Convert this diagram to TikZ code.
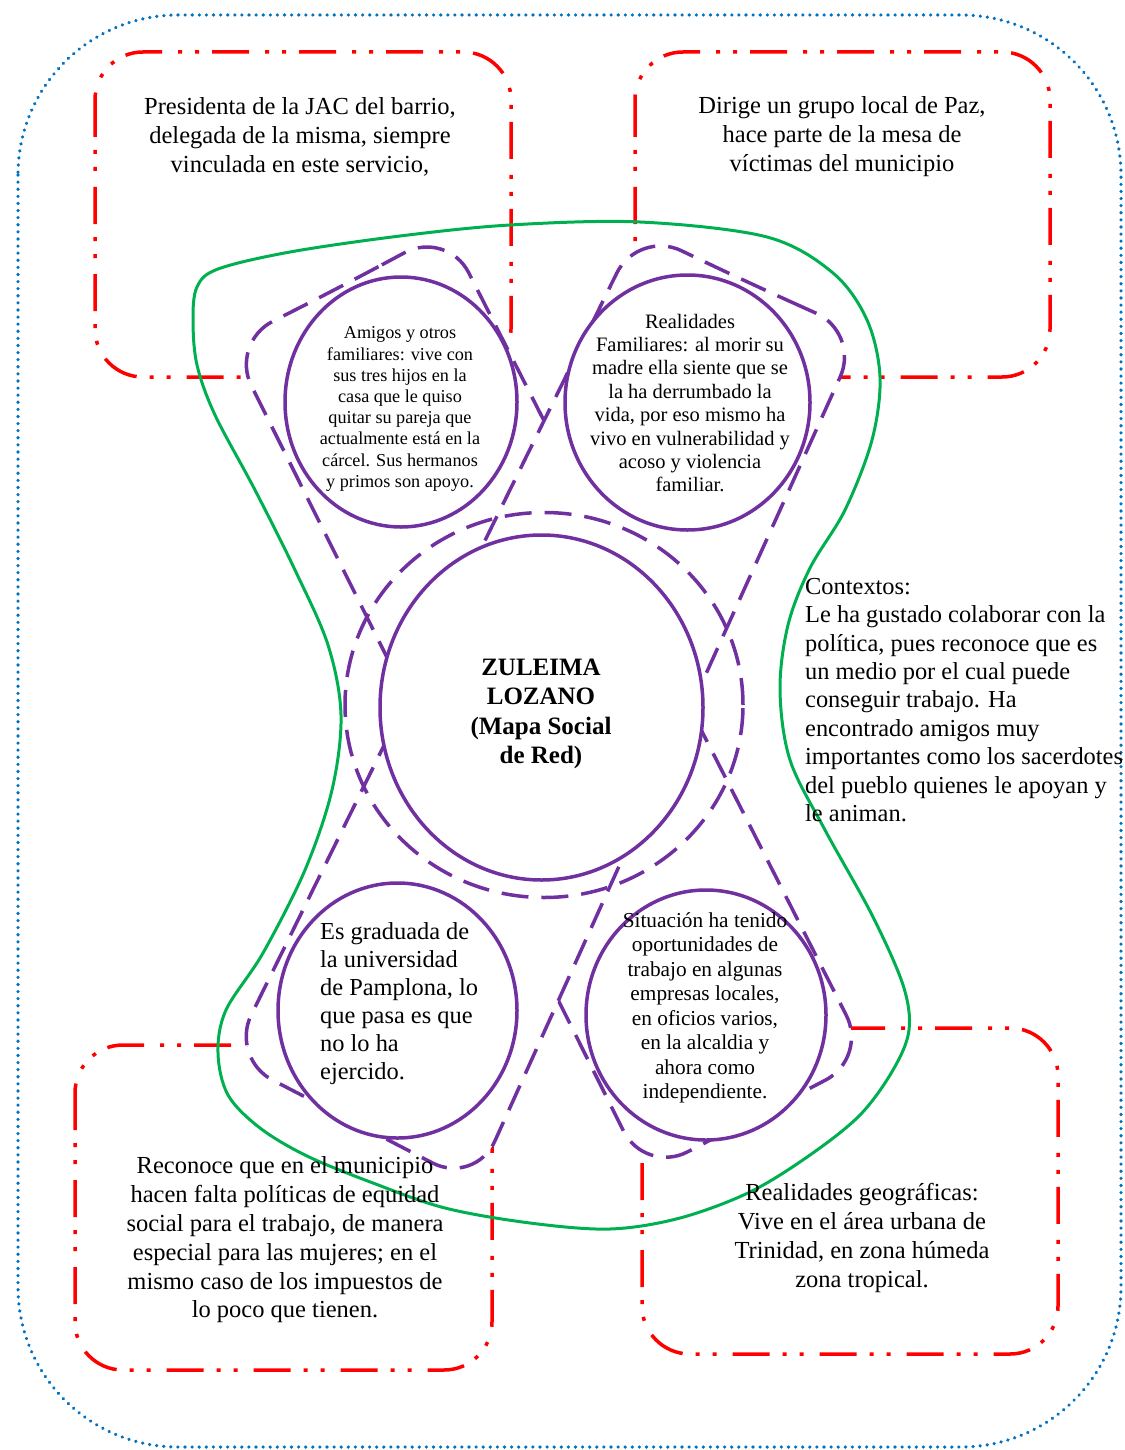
\documentclass[tikz,border=0pt]{standalone}
\usepackage{fontspec}
\setmainfont{Liberation Serif}
\usetikzlibrary{shapes.geometric}
\definecolor{pur}{RGB}{112,48,160}
\definecolor{grn}{RGB}{0,176,80}
\definecolor{blu}{RGB}{0,112,192}
\definecolor{rd}{RGB}{255,0,0}
\begin{document}
\begin{tikzpicture}[x=1pt,y=-1pt,
  bluebox/.style={draw=blu, line width=3.5pt, line cap=round, dash pattern=on 0.1pt off 7pt, rounded corners=160pt},
  redbox/.style={draw=rd, line width=3.5pt, dash pattern=on 37pt off 13pt on 4pt off 13pt on 4pt off 16pt, rounded corners=48pt},
  stripbox/.style={draw=pur, fill=white, line width=3.5pt, dash pattern=on 27pt off 13pt, rounded corners=48pt},
  ring/.style={ellipse, draw=pur, fill=white, line width=3.5pt, inner sep=0pt},
  dring/.style={ellipse, draw=pur, line width=3.5pt, dash pattern=on 27pt off 13pt, inner sep=0pt},
  blob/.style={draw=grn, line width=3pt},
  txt/.style={inner sep=0pt, align=center, text=black},
  bigtxt/.style={txt, font=\fontsize{24.5}{29}\selectfont}
]
\useasboundingbox (0,0) rectangle (1124,1450);
\fill[white] (0,0) rectangle (1124,1450);

% outer dotted frame
\draw[bluebox] (18,15) rectangle (1121,1447);

% red boxes
\draw[redbox] (95,52) rectangle (511,377);
\draw[redbox] (635,52) rectangle (1050,377);
\draw[redbox] (75,1045) rectangle (492,1370);
\draw[redbox] (642,1028) rectangle (1058,1354);

% crossing strips
\draw[stripbox] (339.5,287.5) -- (447,230) -- (868,1058) -- (645,1174) -- (230,343) -- cycle;
\draw[stripbox] (748,282.5) -- (860,333) -- (475,1185) -- (230,1058) -- (638,230) -- cycle;

% dashed ring around centre
\node[dring, minimum width=398pt, minimum height=385pt] (dc) at (544,705) {};

% solid circles
\node[ring, minimum width=323pt, minimum height=345pt] (cc) at (541.5,707.5) {};
\node[ring, minimum width=232pt, minimum height=250pt] (c1) at (401,402) {};
\node[ring, minimum width=245pt, minimum height=255pt] (c2) at (687.5,402.5) {};
\node[ring, minimum width=239pt, minimum height=255pt] (c3) at (397.5,1010.5) {};
\node[ring, minimum width=240pt, minimum height=250pt] (c4) at (706,1015) {};

% green outline
\draw[blob] plot[smooth cycle, tension=0.55] coordinates {
 (193,320) (197,287) (218,269) (290,252) (400,236) (510,225) (640,222)
 (767,237) (833,273) (867,320) (880,377) (872,440) (845,510) (810,568)
 (788,625) (780,690) (790,760) (825,830) (872,915) (903,985) (909,1030)
 (893,1070) (860,1115) (810,1155) (750,1192) (680,1218) (610,1229)
 (530,1223) (445,1208) (373,1183) (307,1156) (260,1128) (228,1095)
 (218,1053) (226,1010) (263,953) (305,870) (332,790) (341,715) (328,645)
 (295,570) (255,490) (215,415) (197,365)};

% texts
\node[bigtxt] (tjac) at (300,137) {Presidenta de la JAC del barrio,\\delegada de la misma, siempre\\vinculada en este servicio,};
\node[bigtxt] (tpaz) at (842,137) {Dirige un grupo local de Paz,\\hace parte de la mesa de\\víctimas del municipio};
\node[txt, font=\fontsize{18.2}{21.2}\selectfont] (tami) at (400,409) {Amigos y otros\\familiares: vive con\\sus tres hijos en la\\casa que le quiso\\quitar su pareja que\\actualmente está en la\\cárcel. Sus hermanos\\y primos son apoyo.};
\node[txt, font=\fontsize{20.5}{23.4}\selectfont] (tfam) at (690,403) {Realidades\\Familiares: al morir su\\madre ella siente que se\\la ha derrumbado la\\vida, por eso mismo ha\\vivo en vulnerabilidad y\\acoso y violencia\\familiar.};
\node[txt, font=\bfseries\fontsize{25}{29.3}\selectfont] (tzul) at (541,714) {ZULEIMA\\LOZANO\\(Mapa Social\\de Red)};
\node[txt, align=left, anchor=west, font=\fontsize{24.4}{28}\selectfont] (tgrad) at (320,1004) {Es graduada de\\la universidad\\de Pamplona, lo\\que pasa es que\\no lo ha\\ejercido.};
\node[txt, font=\fontsize{21.3}{24.5}\selectfont] (tsit) at (705,1008) {Situación ha tenido\\oportunidades de\\trabajo en algunas\\empresas locales,\\en oficios varios,\\en la alcaldia y\\ahora como\\independiente.};
\node[txt, align=left, anchor=west, font=\fontsize{24.4}{28.4}\selectfont] (tctx) at (805,700) {Contextos:\\Le ha gustado colaborar con la\\política, pues reconoce que es\\un medio por el cual puede\\conseguir trabajo. Ha\\encontrado amigos muy\\importantes como los sacerdotes\\del pueblo quienes le apoyan y\\le animan.};
\node[txt, font=\fontsize{24.5}{28.8}\selectfont] (tmun) at (285,1240) {Reconoce que en el municipio\\hacen falta políticas de equidad\\social para el trabajo, de manera\\especial para las mujeres; en el\\mismo caso de los impuestos de\\lo poco que tienen.};
\node[txt, font=\fontsize{24.5}{28.8}\selectfont] (tgeo) at (862,1238) {Realidades geográficas:\\Vive en el área urbana de\\Trinidad, en zona húmeda\\zona tropical.};
\end{tikzpicture}
\end{document}
